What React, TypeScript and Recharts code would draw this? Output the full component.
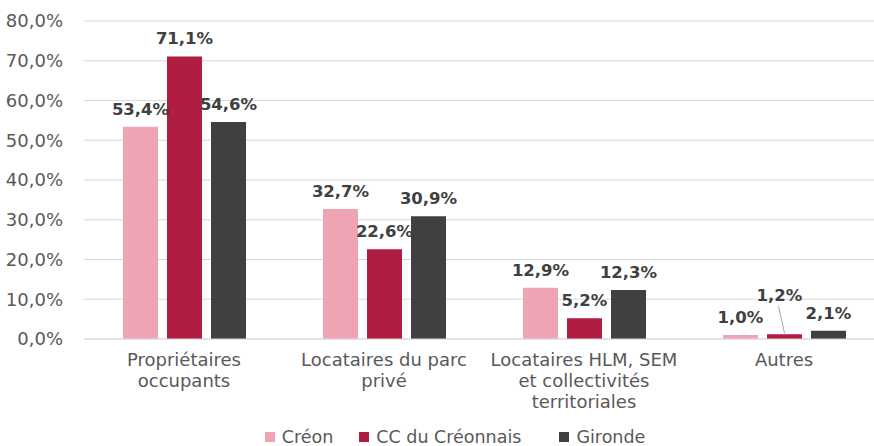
import { BarChart, Bar, XAxis, YAxis, CartesianGrid, Legend, LabelList } from "recharts";

const categories = [
  "Propriétaires\noccupants",
  "Locataires du parc\nprivé",
  "Locataires HLM, SEM\net collectivités\nterritoriales",
  "Autres",
];
const creon = [53.4, 32.7, 12.9, 1.0];
const ccCreonnais = [71.1, 22.6, 5.2, 1.2];
const gironde = [54.6, 30.9, 12.3, 2.1];
const yTicks = [0, 10, 20, 30, 40, 50, 60, 70, 80];

const SERIES = [
  { key: "creon", name: "Créon", color: "#EFA3B3" },
  { key: "cc", name: "CC du Créonnais", color: "#AF1D40" },
  { key: "gironde", name: "Gironde", color: "#404040" },
];

const data = categories.map((category, i) => ({
  category,
  creon: creon[i],
  cc: ccCreonnais[i],
  gironde: gironde[i],
}));

// label moved up with a leader line, as in the source chart
const LABEL_NUDGE: Record<string, { dx: number; dy: number }> = {
  "cc-3": { dx: -5, dy: -21 },
};

const AXIS_TEXT = "#595959";
const LABEL_TEXT = "#404040";
const GRID = "#d9d9d9";

const fmt = (v: number) => `${v.toFixed(1).replace(".", ",")}%`;

function CategoryTick(props: any) {
  const { x, y, payload } = props;
  const lines = String(payload.value).split("\n");
  return (
    <text x={x} y={y} textAnchor="middle" fill={AXIS_TEXT} fontSize={18}>
      {lines.map((line, i) => (
        <tspan key={i} x={x} dy={i === 0 ? 19 : 21}>
          {line}
        </tspan>
      ))}
    </text>
  );
}

const makeLabel = (seriesKey: string) => (props: any) => {
  const { x, y, width, value, index } = props;
  const nudge = LABEL_NUDGE[`${seriesKey}-${index}`];
  const cx = Number(x) + Number(width) / 2;
  const top = Number(y);
  const lx = cx + (nudge ? nudge.dx : 0);
  const ly = top - 12 + (nudge ? nudge.dy : 0);
  return (
    <g>
      {nudge && (
        <line x1={lx - 1} y1={ly + 5} x2={cx} y2={top - 1} stroke="#a6a6a6" strokeWidth={1} />
      )}
      <text
        x={lx}
        y={ly}
        textAnchor="middle"
        fill={LABEL_TEXT}
        fontSize={16.5}
        fontWeight="bold"
        style={{ fontFamily: "'DejaVu Sans', sans-serif" }}
      >
        {fmt(Number(value))}
      </text>
    </g>
  );
};

const LEGEND_GAPS = [26, 38, 0];

function renderLegend() {
  return (
    <div
      style={{
        display: "flex",
        justifyContent: "center",
        alignItems: "center",
        height: 20,
        marginTop: 8,
        paddingLeft: 26,
        fontSize: 17.5,
        lineHeight: "18px",
        color: AXIS_TEXT,
      }}
    >
      {SERIES.map((s, i) => (
        <div key={s.key} style={{ display: "flex", alignItems: "center", marginRight: LEGEND_GAPS[i] }}>
          <span style={{ width: 10, height: 10, background: s.color, marginRight: 7 }} />
          <span>{s.name}</span>
        </div>
      ))}
    </div>
  );
}

export default function App() {
  return (
    <div
      style={{
        position: "absolute",
        left: 0,
        top: 0,
        width: 874,
        height: 446,
        overflow: "hidden",
        background: "#fff",
        fontFamily: "'DejaVu Sans', sans-serif",
      }}
    >
      <BarChart
        width={890}
        height={446}
        data={data}
        margin={{ top: 21, right: 6, left: 0, bottom: 0 }}
        barSize={35}
        barGap={9}
      >
        <CartesianGrid vertical={false} stroke={GRID} />
        <XAxis
          dataKey="category"
          tick={<CategoryTick />}
          tickLine={false}
          axisLine={{ stroke: GRID }}
          height={80}
          interval={0}
        />
        <YAxis
          domain={[0, 80]}
          ticks={yTicks}
          tickFormatter={fmt}
          tick={{ fill: AXIS_TEXT, fontSize: 18 }}
          tickLine={false}
          axisLine={false}
          tickMargin={15}
          width={84}
        />
        <Legend verticalAlign="bottom" height={27} content={renderLegend} />
        {SERIES.map((s) => (
          <Bar key={s.key} dataKey={s.key} name={s.name} fill={s.color} isAnimationActive={false}>
            <LabelList dataKey={s.key} content={makeLabel(s.key)} />
          </Bar>
        ))}
      </BarChart>
    </div>
  );
}
